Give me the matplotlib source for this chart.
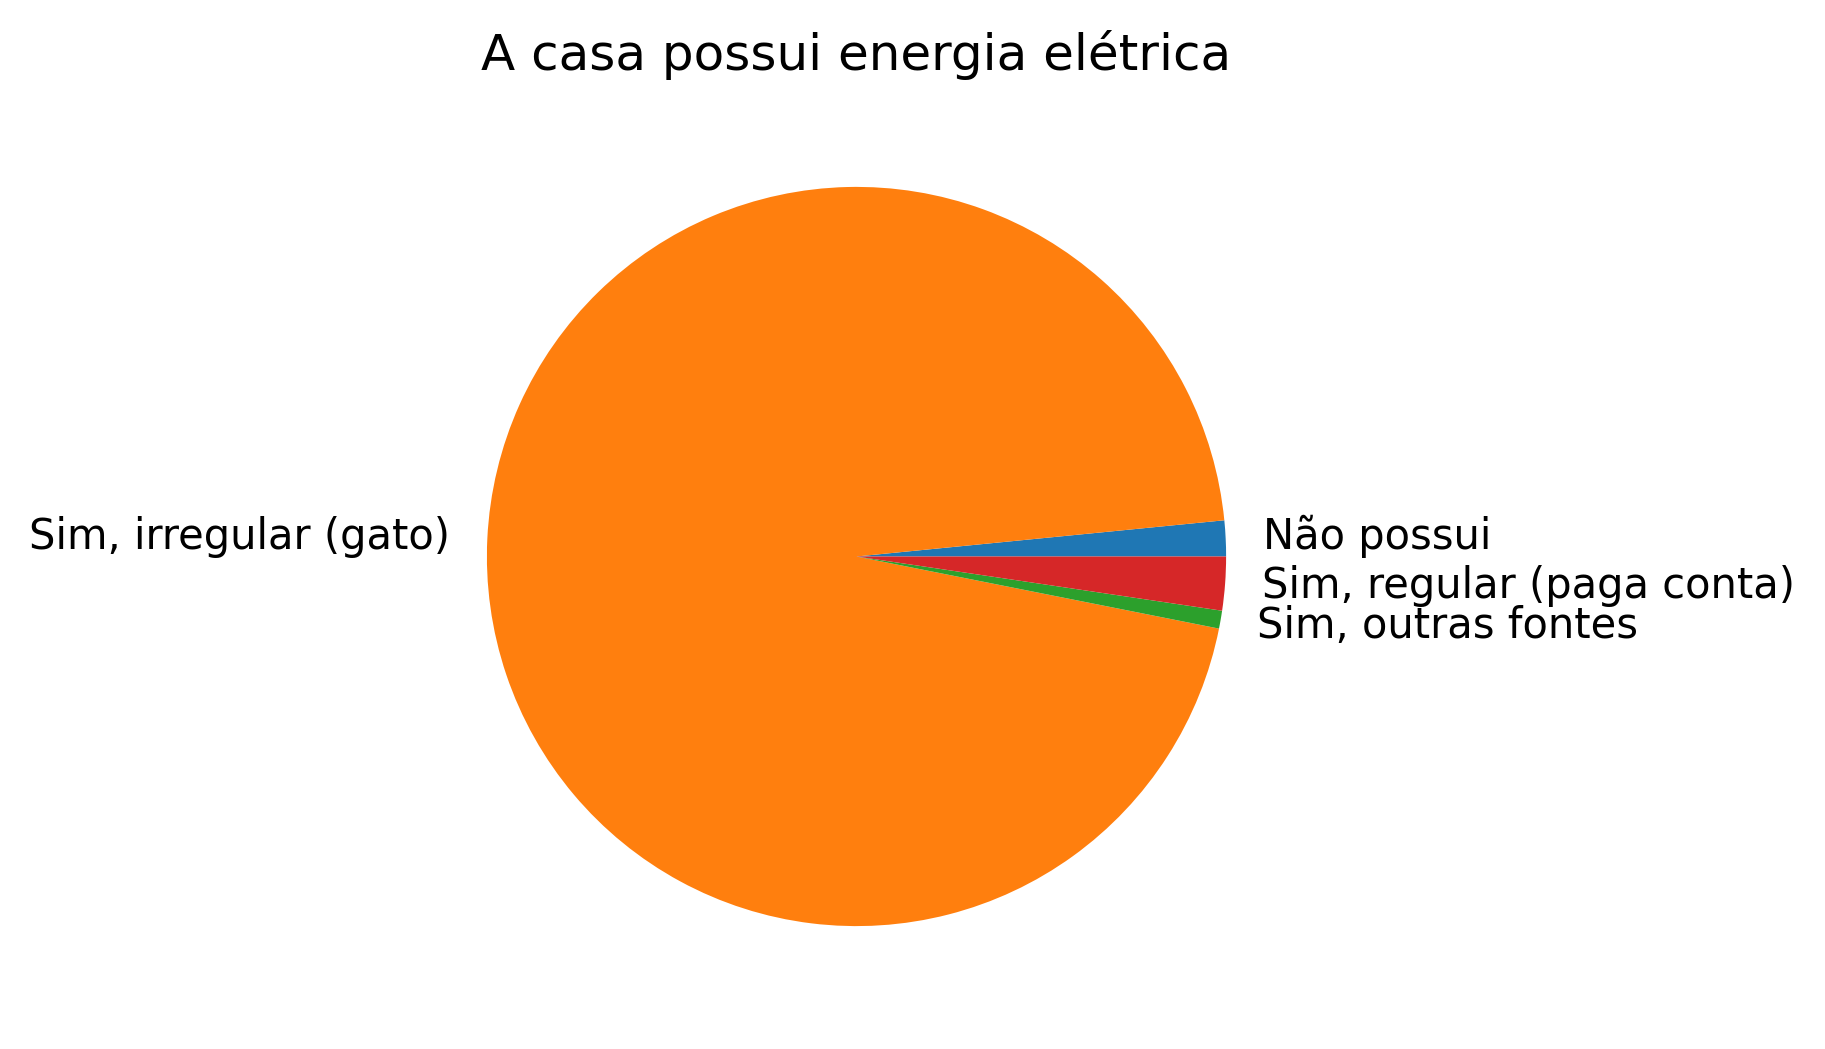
import matplotlib
matplotlib.use("Agg")
import matplotlib.pyplot as plt

plt.rcParams["font.size"] = 12

labels = ["Não possui", "Sim, irregular (gato)", "Sim, outras fontes", "Sim, regular (paga conta)"]
counts = [2, 122, 1, 3]
title = "A casa possui energia elétrica"

W, H, DPI = 1825, 1049, 250
fig = plt.figure(figsize=(W / DPI, H / DPI), dpi=DPI)
# pie centre at (856.5, 556.5) px from top-left, axes side 924 px
side = 924
cx, cy = 856.5, H - 556.5
ax = fig.add_axes([(cx - side / 2) / W, (cy - side / 2) / H, side / W, side / H])
ax.pie(counts, labels=labels)
ax.set_title(title, pad=7)
fig.savefig("out.png", dpi=DPI)
